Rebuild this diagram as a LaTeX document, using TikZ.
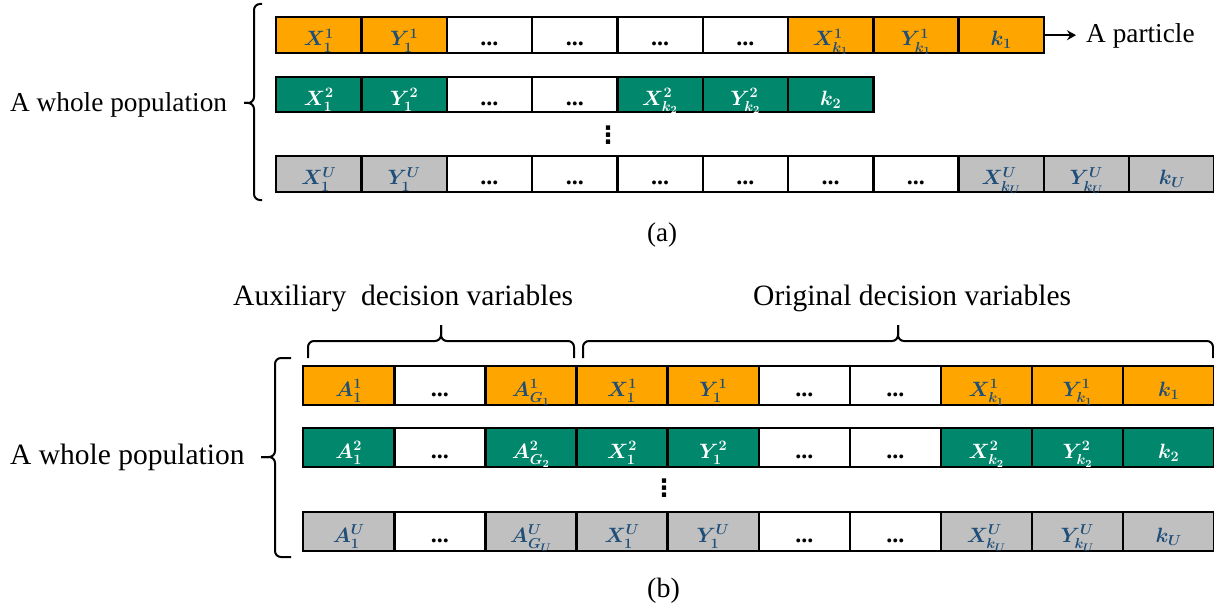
\documentclass[tikz,border=0pt]{standalone}
\usepackage{fontspec}
\setmainfont{Liberation Serif}
\newfontfamily\symfont{DejaVu Sans}
\usetikzlibrary{arrows.meta}
\DeclareMathSizes{22}{22}{15}{11}
\definecolor{corange}{RGB}{255,165,0}
\definecolor{cgreen}{RGB}{0,135,108}
\definecolor{cgray}{RGB}{192,192,192}
\definecolor{ctext}{RGB}{31,78,121}
\newcommand{\celldots}{\textbf{\fontsize{24}{26}\selectfont...}}
\begin{document}
\begin{tikzpicture}[x=1pt,y=-1pt,
  cell/.style={draw=black, line width=2.4pt, inner sep=0pt, anchor=north west,
    minimum width=85.3pt, minimum height=36pt,
    font=\fontsize{22}{26}\selectfont\boldmath, text height=21pt, text depth=0pt},
  cellb/.style={cell, minimum width=91.1pt, minimum height=38.5pt, text height=22pt},
  corg/.style={fill=corange, text=ctext},
  cgrn/.style={fill=cgreen, text=white},
  cgry/.style={fill=cgray, text=ctext},
  cwht/.style={fill=white, text=black},
  lbl/.style={inner sep=0pt, anchor=base west, font=\fontsize{27.3}{30}\selectfont},
  lblb/.style={lbl, font=\fontsize{29.5}{32}\selectfont},
  brc/.style={draw=black, line width=2pt, rounded corners=6pt},
  vdot/.style={inner sep=0pt, font=\symfont\bfseries\fontsize{24}{26}\selectfont}
]
\fill[white] (0,0) rectangle (1214,607);
\useasboundingbox (0,0) rectangle (1214,607);

% ---------- (a) ----------
\foreach \t/\s [count=\i from 0] in {X_1^1/corg, Y_1^1/corg, \celldots/cwht, \celldots/cwht, \celldots/cwht, \celldots/cwht, X_{k_1}^1/corg, Y_{k_1}^1/corg, k_1/corg}
  \node[cell, \s] (aa\i) at ({275+\i*85.3},16) {$\t$};
\foreach \t/\s [count=\i from 0] in {X_1^2/cgrn, Y_1^2/cgrn, \celldots/cwht, \celldots/cwht, X_{k_2}^2/cgrn, Y_{k_2}^2/cgrn, k_2/cgrn}
  \node[cell, \s, minimum height=35pt] (ab\i) at ({275+\i*85.3},76) {$\t$};
\foreach \t/\s [count=\i from 0] in {X_1^U/cgry, Y_1^U/cgry, \celldots/cwht, \celldots/cwht, \celldots/cwht, \celldots/cwht, \celldots/cwht, \celldots/cwht, X_{k_U}^U/cgry, Y_{k_U}^U/cgry, k_U/cgry}
  \node[cell, \s] (ac\i) at ({275+\i*85.3},155) {$\t$};

\node[vdot] (vda) at (608,135) {⋮};

\node[lbl] (popa) at (10,112) {A whole population};
\draw[brc] (262,4) -- (254,4) -- (254,103) -- (244,103);
\draw[brc] (262,200) -- (254,200) -- (254,103) -- (244,103);

\node[lbl] (part) at (1086,43) {A particle};
\draw[line width=2pt, -{Stealth[length=9pt,width=10pt,inset=3pt]}] (aa8.east) -- ([xshift=-10pt]part.west |- aa8.east);

\node[lbl, font=\fontsize{27}{30}\selectfont] (capa) at (647,241) {(a)};

% ---------- (b) ----------
\foreach \t/\s [count=\i from 0] in {A_1^1/corg, \celldots/cwht, A_{G_1}^1/corg, X_1^1/corg, Y_1^1/corg, \celldots/cwht, \celldots/cwht, X_{k_1}^1/corg, Y_{k_1}^1/corg, k_1/corg}
  \node[cellb, \s] (ba\i) at ({302+\i*91.1},365) {$\t$};
\foreach \t/\s [count=\i from 0] in {A_1^2/cgrn, \celldots/cwht, A_{G_2}^2/cgrn, X_1^2/cgrn, Y_1^2/cgrn, \celldots/cwht, \celldots/cwht, X_{k_2}^2/cgrn, Y_{k_2}^2/cgrn, k_2/cgrn}
  \node[cellb, \s] (bb\i) at ({302+\i*91.1},427) {$\t$};
\foreach \t/\s [count=\i from 0] in {A_1^U/cgry, \celldots/cwht, A_{G_U}^U/cgry, X_1^U/cgry, Y_1^U/cgry, \celldots/cwht, \celldots/cwht, X_{k_U}^U/cgry, Y_{k_U}^U/cgry, k_U/cgry}
  \node[cellb, \s] (bc\i) at ({302+\i*91.1},511) {$\t$};

\node[vdot] (vdb) at (664,488) {⋮};

\node[lblb] (popb) at (10,464) {A whole population};
\draw[brc] (291,358) -- (275,358) -- (275,457) -- (261,457);
\draw[brc] (291,557) -- (275,557) -- (275,457) -- (261,457);

\node[lblb] (auxl) at (233,305) {Auxiliary\hspace{0.5em}decision variables};
\draw[brc] (308,358) -- (308,341) -- (441,341) -- (441,325);
\draw[brc] (574,358) -- (574,341) -- (441,341) -- (441,325);

\node[lblb] (origl) at (753,305) {Original decision variables};
\draw[brc] (583,358) -- (583,341) -- (898,341) -- (898,325);
\draw[brc] (1213,358) -- (1213,341) -- (898,341) -- (898,325);

\node[lbl, font=\fontsize{28}{30}\selectfont] (capb) at (647,597) {(b)};
\end{tikzpicture}
\end{document}
